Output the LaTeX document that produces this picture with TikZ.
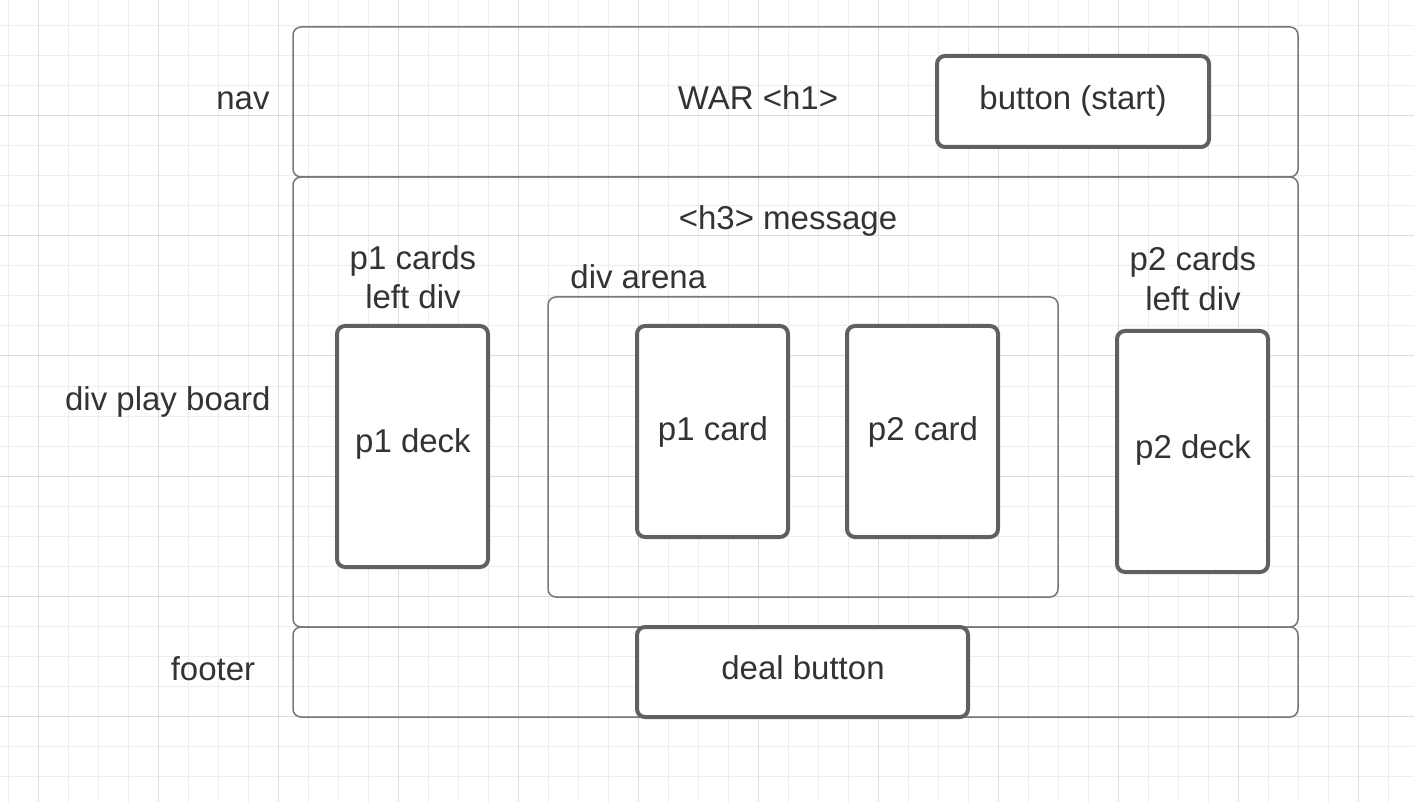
\documentclass[tikz,border=0pt]{standalone}
\usepackage{fontspec}
\setmainfont{Liberation Sans}
\definecolor{txt}{HTML}{333333}
\definecolor{thinline}{HTML}{777777}
\definecolor{thickline}{HTML}{606060}
\definecolor{gridminor}{HTML}{EDEDED}
\definecolor{gridmajor}{HTML}{DCDCDC}
\tikzset{
  lbl/.style={text=txt, font=\fontsize{16.5}{20}\selectfont, inner sep=0pt, anchor=base},
  region/.style={draw=thinline, line width=0.75pt, rounded corners=4pt, inner sep=0pt},
  thickbox/.style={draw=thickline, line width=2pt, rounded corners=4pt, fill=white, inner sep=0pt},
}
\begin{document}
\begin{tikzpicture}[x=0.5pt,y=-0.5pt]
\useasboundingbox (0,0) rectangle (1414,802);
\fill[white] (0,0) rectangle (1414,802);
% grid
\begin{scope}
\clip (0,0) rectangle (1414,802);
\foreach \i in {0,...,47} {\draw[gridminor, line width=0.5pt] ({8+30*\i},0) -- ({8+30*\i},802);}
\foreach \j in {0,...,27} {\draw[gridminor, line width=0.5pt] (0,{-4+30*\j}) -- (1414,{-4+30*\j});}
\foreach \i in {0,...,11} {\draw[gridmajor, line width=0.5pt] ({38+120*\i},0) -- ({38+120*\i},802);}
\foreach \j in {1,...,6} {\draw[gridmajor, line width=0.5pt] (0,{-4+120*\j}) -- (1414,{-4+120*\j});}
\end{scope}
% regions
\node[region, minimum width=502.5pt, minimum height=75pt] (nav) at (795.5,102) {};
\node[region, minimum width=502.5pt, minimum height=225pt] (board) at (795.5,402) {};
\node[region, minimum width=502.5pt, minimum height=45pt] (footer) at (795.5,672) {};
\node[region, minimum width=255pt, minimum height=150pt] (arena) at (803,447) {};
% boxes
\node[thickbox, minimum width=136pt, minimum height=45.5pt] (start) at (1073,101.5) {};
\node[thickbox, minimum width=75.5pt, minimum height=120.5pt] (p1deck) at (412.5,446.5) {};
\node[thickbox, minimum width=75.5pt, minimum height=105.5pt] (p1card) at (712.5,431.5) {};
\node[thickbox, minimum width=75.5pt, minimum height=105.5pt] (p2card) at (922.5,431.5) {};
\node[thickbox, minimum width=75.5pt, minimum height=120.5pt] (p2deck) at (1192.5,451.5) {};
\node[thickbox, minimum width=165.5pt, minimum height=45pt] (deal) at (802.5,672) {};
% side labels
\node[lbl, anchor=base east] (navlbl) at (270,110) {nav};
\node[lbl, anchor=base east] (boardlbl) at (271,410) {div play board};
\node[lbl] (footerlbl) at (213,680) {footer};
% texts
\node[lbl] (title) at (758,110) {WAR <h1>};
\node[lbl] (starttxt) at (1073,110) {button (start)};
\node[lbl] (msg) at (788,230) {<h3> message};
\node[lbl, align=center] (p1lbl) at (413,309) {p1 cards\\left div};
\node[lbl, align=center] (p2lbl) at (1193,311) {p2 cards\\left div};
\node[lbl, anchor=base west] (arenalbl) at (570,289) {div arena};
\node[lbl] (p1decktxt) at (413,452) {p1 deck};
\node[lbl] (p1cardtxt) at (713,440) {p1 card};
\node[lbl] (p2cardtxt) at (923,440) {p2 card};
\node[lbl] (p2decktxt) at (1193,458) {p2 deck};
\node[lbl] (dealtxt) at (803,679) {deal button};
\end{tikzpicture}
\end{document}
